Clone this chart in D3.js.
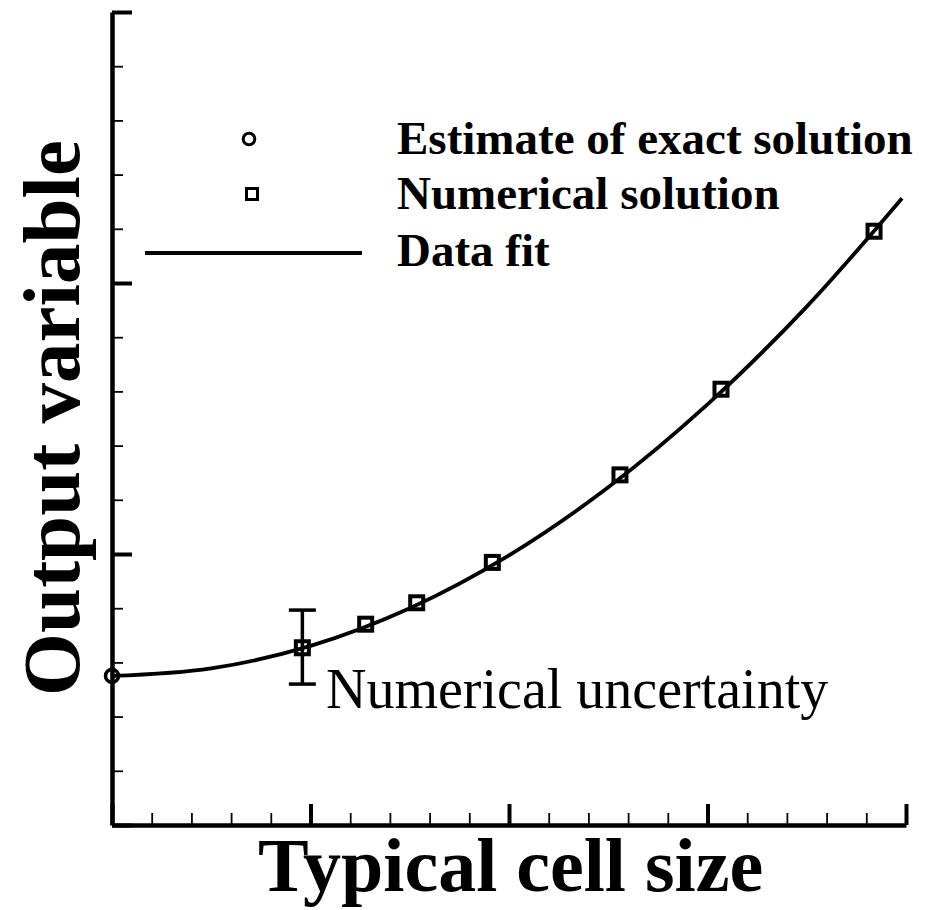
<!DOCTYPE html>
<html>
<head>
<meta charset="utf-8">
<script src="https://cdn.jsdelivr.net/npm/d3@7"></script>
<style>
  html, body { margin: 0; padding: 0; background: #fff; }
  svg { display: block; }
  text { font-family: "Liberation Serif", "Times New Roman", serif; fill: #000; }
</style>
</head>
<body>
<svg id="chart" width="941" height="910"></svg>
<script>
// ---- data ----
const exactX = [0];
const exactY = [0.550];

const numX = [0.959, 1.278, 1.535, 1.916, 2.559, 3.068, 3.839];
const numY = [0.654, 0.741, 0.820, 0.969, 1.292, 1.608, 2.191];

const fitX = [0, 0.5, 1.0, 1.5, 2.0, 2.5, 3.0, 3.5, 3.98];
const fitY = [0.550, 0.578, 0.661, 0.800, 0.995, 1.246, 1.552, 1.913, 2.313];

const errX = [0.959];
const errLow = [0.520];
const errHigh = [0.793];

const xMajorTicks = [0, 1, 2, 3, 4];
const xMinorTicks = [0.2, 0.4, 0.6, 0.8, 1.2, 1.4, 1.6, 1.8, 2.2, 2.4, 2.6, 2.8, 3.2, 3.4, 3.6, 3.8];
const yMajorTicks = [0, 1, 2, 3];
const yMinorTicks = [0.2, 0.4, 0.6, 0.8, 1.2, 1.4, 1.6, 1.8, 2.2, 2.4, 2.6, 2.8];

const legendLabels = ["Estimate of exact solution", "Numerical solution", "Data fit"];
const xTitle = "Typical cell size";
const yTitle = "Output variable";
const annotation = "Numerical uncertainty";

// ---- layout ----
const svg = d3.select("#chart");
const x = d3.scaleLinear().domain([0, 4]).range([112, 906]);
const y = d3.scaleLinear().domain([0, 3]).range([825, 12]);

function styleAxis(g, w) {
  g.selectAll("text").remove();
  g.selectAll("line").attr("stroke", "#000").attr("stroke-width", w);
}
// minor ticks
svg.append("g").attr("transform", `translate(0,${y(0)})`)
  .call(d3.axisBottom(x).tickValues(xMinorTicks).tickSize(-12).tickSizeOuter(0))
  .call(g => { g.select(".domain").remove(); styleAxis(g, 1.8); });
svg.append("g").attr("transform", `translate(${x(0)},0)`)
  .call(d3.axisLeft(y).tickValues(yMinorTicks).tickSize(-11).tickSizeOuter(0))
  .call(g => { g.select(".domain").remove(); styleAxis(g, 1.8); });
// major ticks + axis lines
svg.append("g").attr("transform", `translate(0,${y(0)})`)
  .call(d3.axisBottom(x).tickValues(xMajorTicks).tickSize(-21).tickSizeOuter(0))
  .call(g => { styleAxis(g, 4); g.select(".domain").attr("stroke", "#000").attr("stroke-width", 4.5); });
svg.append("g").attr("transform", `translate(${x(0)},0)`)
  .call(d3.axisLeft(y).tickValues(yMajorTicks).tickSize(-20).tickSizeOuter(0))
  .call(g => { styleAxis(g, 4); g.select(".domain").attr("stroke", "#000").attr("stroke-width", 4.5); });

// fit curve
const fitData = fitX.map((d, i) => [d, fitY[i]]);
svg.append("path")
  .datum(fitData)
  .attr("fill", "none")
  .attr("stroke", "#000")
  .attr("stroke-width", 3.8)
  .attr("d", d3.line().x(d => x(d[0])).y(d => y(d[1])).curve(d3.curveCatmullRom.alpha(0.5)));

// error bar
errX.forEach((ex, i) => {
  const g = svg.append("g").attr("stroke", "#000").attr("stroke-width", 3.5);
  g.append("line").attr("x1", x(ex)).attr("x2", x(ex)).attr("y1", y(errLow[i])).attr("y2", y(errHigh[i]));
  g.append("line").attr("x1", x(ex) - 13.5).attr("x2", x(ex) + 13.5).attr("y1", y(errLow[i])).attr("y2", y(errLow[i]));
  g.append("line").attr("x1", x(ex) - 13.5).attr("x2", x(ex) + 13.5).attr("y1", y(errHigh[i])).attr("y2", y(errHigh[i]));
});

// numerical solution squares
const sq = 13;
svg.append("g").selectAll("rect")
  .data(numX.map((d, i) => [d, numY[i]]))
  .join("rect")
  .attr("x", d => x(d[0]) - sq / 2)
  .attr("y", d => y(d[1]) - sq / 2)
  .attr("width", sq).attr("height", sq)
  .attr("fill", "none").attr("stroke", "#000").attr("stroke-width", 4);

// exact solution circle
svg.append("g").selectAll("circle")
  .data(exactX.map((d, i) => [d, exactY[i]]))
  .join("circle")
  .attr("cx", d => x(d[0])).attr("cy", d => y(d[1]))
  .attr("r", 6.5)
  .attr("fill", "none").attr("stroke", "#000").attr("stroke-width", 3.5);

// legend
const leg = svg.append("g");
leg.append("circle").attr("cx", 249).attr("cy", 139).attr("r", 5.8)
  .attr("fill", "none").attr("stroke", "#000").attr("stroke-width", 3);
leg.append("rect").attr("x", 252 - 5.5).attr("y", 194 - 5.5).attr("width", 11).attr("height", 11)
  .attr("fill", "none").attr("stroke", "#000").attr("stroke-width", 3);
leg.append("line").attr("x1", 145).attr("x2", 362).attr("y1", 253).attr("y2", 253)
  .attr("stroke", "#000").attr("stroke-width", 4);
const legBase = [154, 209, 266];
leg.selectAll("text").data(legendLabels).join("text")
  .attr("x", 397).attr("y", (d, i) => legBase[i])
  .attr("font-size", 47).attr("font-weight", "bold")
  .text(d => d);

// annotation
svg.append("text").attr("x", 326).attr("y", 708)
  .attr("font-size", 56).text(annotation);

// axis titles
svg.append("text").attr("x", 258).attr("y", 891)
  .attr("font-size", 76).attr("font-weight", "bold").text(xTitle);
svg.append("text")
  .attr("transform", "translate(79,418) rotate(-90)")
  .attr("text-anchor", "middle")
  .attr("font-size", 81).attr("font-weight", "bold").text(yTitle);
</script>
</body>
</html>
